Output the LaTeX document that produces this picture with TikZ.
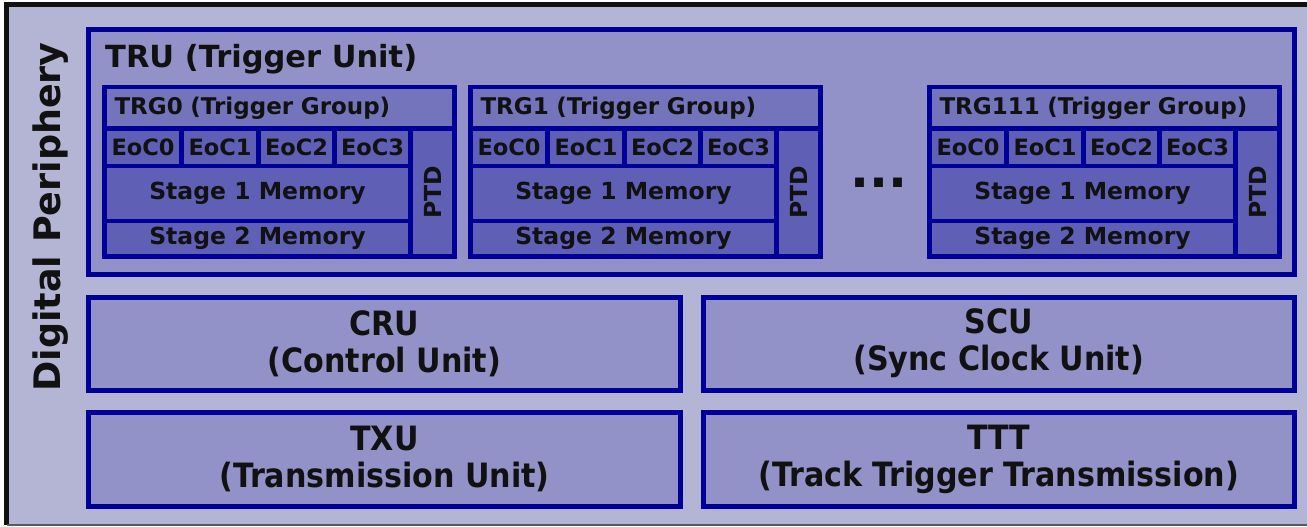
\documentclass[tikz,border=0pt]{standalone}
\usepackage{fontspec}
\usepackage{graphicx}
\setmainfont{DejaVu Sans}
\newfontfamily\condfont{DejaVu Sans Condensed}
\usetikzlibrary{positioning}
\definecolor{ink}{HTML}{111111}
\definecolor{edge}{HTML}{000099}
\definecolor{periphfill}{HTML}{B4B4D4}
\definecolor{unitfill}{HTML}{9292C8}
\definecolor{headfill}{HTML}{7474BC}
\definecolor{cellfill}{HTML}{5F5FB5}
\tikzset{
  periph/.style={fill=periphfill, inner sep=0pt, outer sep=0pt, anchor=north west},
  frame/.style={draw=ink, line width=5pt},
  rim/.style={draw=black!65, line width=2pt},
  unit/.style={draw=edge, line width=5pt, fill=unitfill, inner sep=0pt, outer sep=0pt, align=center, text=ink, font=\condfont\bfseries\fontsize{33.5}{37}\selectfont},
  grouphead/.style={draw=edge, line width=4.6pt, fill=headfill, inner sep=0pt, outer sep=0pt, anchor=north west, minimum width=350pt, minimum height=41.5pt, text width=330pt, align=left, text=ink, font=\bfseries\fontsize{23}{26}\selectfont},
  cell/.style={draw=edge, line width=4.6pt, fill=cellfill, inner sep=0pt, outer sep=0pt, anchor=north west, text=ink, font=\bfseries\fontsize{23.5}{26}\selectfont},
  eoc/.style={cell, minimum height=37.5pt, font=\bfseries\fontsize{22.5}{26}\selectfont},
  title/.style={inner sep=0pt, text=ink, font=\bfseries\fontsize{30.5}{34}\selectfont},
  sidetitle/.style={inner sep=0pt, text=ink, rotate=90, font=\bfseries\fontsize{36.5}{40}\selectfont},
  dots/.style={inner sep=0pt, text=ink, font=\bfseries\fontsize{50}{54}\selectfont}
}

\begin{document}
\begin{tikzpicture}[x=1pt, y=-1pt]
  \useasboundingbox (0,0) rectangle (1307,527);

  % outer block
  \node[periph, minimum width=1301pt, minimum height=520pt] (periph) at (6.5,5) {};
  \draw[frame] (periph.north east) -- (periph.north west) -- (periph.south west);
  \draw[rim] (periph.south west) -- (periph.south east);
  \node[sidetitle] (periphtitle) at (50.5,217) {Digital Periphery};

  % trigger unit
  \node[unit, anchor=north west, minimum width=1206pt, minimum height=245pt] (tru) at (88.5,29.5) {};
  \node[title, anchor=base west] (trutitle) at (105,68) {TRU (Trigger Unit)};

  \foreach \g/\x in {0/104.5, 1/470.5, 111/929.5} {
    \node[grouphead] (trg\g) at (\x,87) {TRG\g{} (Trigger Group)};
    \node[eoc, minimum width=77pt] (trg\g-eoc0) at (\x,128.5) {EoC0};
    \node[eoc, minimum width=77pt] (trg\g-eoc1) at (\x+77,128.5) {EoC1};
    \node[eoc, minimum width=76pt] (trg\g-eoc2) at (\x+154,128.5) {EoC2};
    \node[eoc, minimum width=76pt] (trg\g-eoc3) at (\x+230,128.5) {EoC3};
    \node[cell, minimum width=306pt, minimum height=55pt] (trg\g-mem1) at (\x,166) {Stage 1 Memory};
    \node[cell, minimum width=306pt, minimum height=35.5pt] (trg\g-mem2) at (\x,221) {Stage 2 Memory};
    \node[cell, minimum width=44pt, minimum height=128pt] (trg\g-ptd) at (\x+306,128.5) {\rotatebox{90}{PTD}};
  }
  \node[dots] (more) at (879,183) {...};

  % other units
  \node[unit, minimum width=592pt, minimum height=93pt] (cru) at (384.5,343.5) {CRU\\(Control Unit)};
  \node[unit, minimum width=591.5pt, minimum height=93pt] (scu) at (998.75,343.5) {SCU\\(Sync Clock Unit)};
  \node[unit, minimum width=592pt, minimum height=94pt] (txu) at (384.5,459) {TXU\\(Transmission Unit)};
  \node[unit, minimum width=591.5pt, minimum height=94pt] (ttt) at (998.75,459) {TTT\\(Track Trigger Transmission)};
\end{tikzpicture}
\end{document}
